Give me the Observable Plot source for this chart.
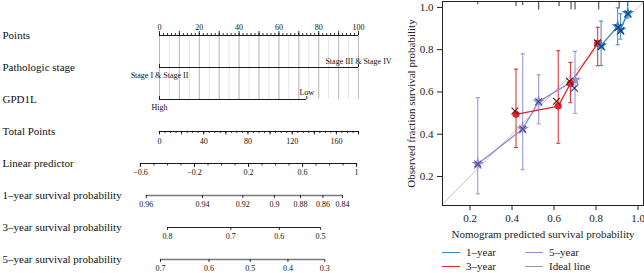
<!DOCTYPE html>
<html><head><meta charset="utf-8">
<script src="https://cdn.jsdelivr.net/npm/d3@7"></script>
<script src="https://cdn.jsdelivr.net/npm/@observablehq/plot@0.6"></script>
<style>
body{margin:0;background:#fff;}
#root{position:relative;width:644px;height:273px;overflow:hidden;font-family:"Liberation Serif","Times New Roman",serif;}
#left{position:absolute;left:0;top:0;}
#right{position:absolute;left:400px;top:0;}
.lg{position:absolute;font-size:11px;line-height:12px;color:#222;white-space:nowrap;}
.lg i{position:absolute;left:0;top:6px;width:18px;height:0;border-top:1.2px solid;}
.lg span{position:absolute;left:24px;top:0;}
</style></head><body>
<div id="root"><div id="left"></div><div id="right"></div><div id="legend"></div></div>
<script>
// ---------------- nomogram data ----------------
const rowNames = ["Points","Pathologic stage","GPD1L","Total Points","Linear predictor",
  "1–year survival probability","3–year survival probability","5–year survival probability"];
const pointsTickLabels = [0,20,40,60,80,100];
const pointsMax = 100;
const stageLevels = ["Stage I & Stage II","Stage III & Stage IV"];
const stagePoints = [0,100];
const gpd1lLevels = ["High","Low"];
const gpd1lPoints = [0,74];
const totalTickLabels = [0,40,80,120,160];
const totalMax = 180;
const lpTickLabels = [-0.6,-0.2,0.2,0.6,1];
const lpRange = [-0.6,1];
const surv1Ticks = [0.96,0.94,0.92,0.9,0.88,0.86,0.84];
const surv3Ticks = [0.8,0.7,0.6,0.5];
const surv5Ticks = [0.7,0.6,0.5,0.4,0.3];
// model constants
const lpAtZeroTotal = -0.459;     // linear predictor at 0 total points
const totalPerLp = 122.2;         // total points per unit linear predictor
const logBaseHazard = {1:-2.642, 3:-1.10, 5:-0.579};

// ---------------- calibration data ----------------
const yr1X  = [0.824,0.903,0.916,0.951];
const yr1Y  = [0.819,0.910,0.894,0.973];
const yr1Lo = [0.725,0.823,0.850,0.950];
const yr1Hi = [0.935,0.998,0.970,1.030];
const yr3X  = [0.419,0.620,0.678,0.808];
const yr3Y  = [0.494,0.533,0.640,0.830];
const yr3Lo = [0.337,0.357,0.549,0.724];
const yr3Hi = [0.708,0.795,0.740,0.906];
const yr5X  = [0.237,0.451,0.527,0.700];
const yr5Y  = [0.259,0.425,0.554,0.657];
const yr5Lo = [0.118,0.232,0.449,0.499];
const yr5Hi = [0.573,0.780,0.681,0.792];
// bias-corrected estimates (x markers)
const crossX = [0.414,0.612,0.674,0.807,0.826,0.905,0.918,0.952,0.237,0.451,0.527,0.697];
const crossY = [0.510,0.556,0.650,0.832,0.815,0.905,0.890,0.970,0.259,0.425,0.554,0.618];
const crossS = ["3","3","3","3","1","1","1","1","5","5","5","1"];
const rugX   = [0.237,0.419,0.451,0.527,0.624,0.681,0.700,0.813,0.910,0.951];
const rugLen = [0.015,0.024,0.020,0.040,0.024,0.040,0.040,0.040,0.036,0.024];
const idealRange = [0,1.2];
const seriesNames = ["1–year","3–year","5–year","Ideal line"];
const seriesColors = ["#3a88c0","#e0252b","#8e8ed0","#9a9a9a"];
const crossColors = {"1":"#1f3a80","3":"#6a1414","5":"#4d4d93"};

// ---------------- left: nomogram ----------------
const totalToPts = t => t * pointsMax / totalMax;
const lpToPts = lp => totalToPts((lp - lpAtZeroTotal) * totalPerLp);
const survToPts = (s, yr) => lpToPts(Math.log(-Math.log(s)) - logBaseHazard[yr]);
const R = rowNames;
const ticks = (data, xf, row, len, up, sw=0.8, stroke="#000") =>
  Plot.ruleX(data, {x: xf, y1: () => row, y2: () => row,
    ...(up ? {insetTop: -len} : {insetBottom: -len}), stroke, strokeWidth: sw});
const axisLine = (row, a, b, stroke="#000", sw=0.9) =>
  Plot.ruleY([row], {y: d => d, x1: a, x2: b, stroke, strokeWidth: sw});
const labels = (data, xf, row, dy, textf) =>
  Plot.text(data, {x: xf, y: () => row, dy, text: textf, fontSize: 8, fill: "#111"});
const num = d => String(d).replace("-", "−");

const survRow = (vals, yr, row, stroke, sw) => [
  Plot.ruleY([row], {y: d => d, x1: survToPts(vals[0], yr), x2: survToPts(vals[vals.length-1], yr), stroke, strokeWidth: sw}),
  ticks(vals, d => survToPts(d, yr), row, 3, false),
  labels(vals, d => survToPts(d, yr), row, 9, d => String(d))
];

const left = Plot.plot({
  width: 400, height: 273, marginLeft: 159, marginRight: 42,
  style: {fontFamily: "Liberation Serif, Times New Roman, serif", background: "transparent"},
  x: {domain: [0, pointsMax], axis: null},
  y: {type: "point", domain: rowNames, range: [32.5, 261.7], padding: 0, axis: null},
  marks: [
    Plot.ruleX(d3.range(0, pointsMax + 0.1, 5), {x: d => d, y1: () => R[0], y2: () => R[2], stroke: "#dedede", strokeWidth: 0.8}),
    Plot.ruleX(d3.range(0, pointsMax + 0.1, 10), {x: d => d, y1: () => R[0], y2: () => R[2], stroke: "#b0b0b0", strokeWidth: 0.8}),
    Plot.text(rowNames, {y: d => d, frameAnchor: "left", dx: -157, textAnchor: "start", fontSize: 11, fill: "#111"}),
    // Points
    axisLine(R[0], 0, pointsMax),
    ticks(d3.range(0, pointsMax + 0.1, 2), d => d, R[0], 2, true),
    ticks(d3.range(0, pointsMax + 0.1, 10), d => d, R[0], 4, true),
    labels(pointsTickLabels, d => d, R[0], -8, d => String(d)),
    // Pathologic stage
    axisLine(R[1], stagePoints[0], stagePoints[1]),
    ticks(stagePoints, d => d, R[1], 3, true),
    Plot.text([0], {x: () => stagePoints[0], y: () => R[1], dy: 8, text: () => stageLevels[0], fontSize: 8, fill: "#111"}),
    Plot.text([1], {x: () => stagePoints[1], y: () => R[1], dy: -6.5, text: () => stageLevels[1], fontSize: 8, fill: "#111"}),
    // GPD1L
    axisLine(R[2], gpd1lPoints[0], gpd1lPoints[1]),
    ticks(gpd1lPoints, d => d, R[2], 3, true),
    Plot.text([0], {x: () => gpd1lPoints[0], y: () => R[2], dy: 7.5, text: () => gpd1lLevels[0], fontSize: 8, fill: "#111"}),
    Plot.text([1], {x: () => gpd1lPoints[1], y: () => R[2], dy: -7, text: () => gpd1lLevels[1], fontSize: 8, fill: "#111"}),
    // Total points
    axisLine(R[3], 0, totalToPts(totalMax)),
    ticks(d3.range(0, totalMax + 0.1, 5), totalToPts, R[3], 2, false),
    ticks(d3.range(0, totalMax + 0.1, 20), totalToPts, R[3], 3.5, false),
    labels(totalTickLabels, totalToPts, R[3], 9.5, d => String(d)),
    // Linear predictor
    axisLine(R[4], lpToPts(lpRange[0]), lpToPts(lpRange[1])),
    ticks(d3.range(-6, 10.1, 1).map(d => d / 10), lpToPts, R[4], 2.5, false),
    ticks(lpTickLabels, lpToPts, R[4], 4, false),
    labels(lpTickLabels, lpToPts, R[4], 9, num),
    ...survRow(surv1Ticks, 1, R[5], "#7a7a7a", 1.6),
    ...survRow(surv3Ticks, 3, R[6], "#222", 1),
    ...survRow(surv5Ticks, 5, R[7], "#7a7a7a", 1.4)
  ]
});
document.getElementById("left").appendChild(left);

// ---------------- right: calibration ----------------
const mk = (X, Y, Lo, Hi, s) => X.map((x, i) => ({x, y: Y[i], lo: Lo[i], hi: Hi[i], s}));
const d1 = mk(yr1X, yr1Y, yr1Lo, yr1Hi, seriesNames[0]);
const d3y = mk(yr3X, yr3Y, yr3Lo, yr3Hi, seriesNames[1]);
const d5 = mk(yr5X, yr5Y, yr5Lo, yr5Hi, seriesNames[2]);
const allPts = [...d1, ...d3y, ...d5];
const crosses = crossX.map((x, i) => ({x, y: crossY[i], s: crossS[i]}));
const cap = {draw(ctx, size) { const w = Math.sqrt(size) / 2; ctx.moveTo(-w, 0); ctx.lineTo(w, 0); }};
const colorOf = s => seriesColors[seriesNames.indexOf(s)];
const yTop = 1.028;

const right = Plot.plot({
  width: 244, height: 240, marginLeft: 42, marginRight: 1, marginTop: 1, marginBottom: 35,
  style: {fontFamily: "Liberation Serif, Times New Roman, serif", fontSize: "11px", background: "transparent", color: "#222"},
  x: {domain: [0.069, 1.026], ticks: [0.2,0.4,0.6,0.8,1.0], tickFormat: ".1f", tickSize: 5,
      label: "Nomogram predicted survival probability", labelAnchor: "center", labelArrow: "none"},
  y: {domain: [0.0627, yTop], ticks: [0.2,0.4,0.6,0.8,1.0], tickFormat: ".1f", tickSize: 5,
      label: "Observed fraction survival probability", labelAnchor: "center", labelArrow: "none", labelOffset: 35},
  marks: [
    Plot.line(idealRange, {x: d => d, y: d => d, stroke: "#c4c4c4", strokeWidth: 1, clip: true}),
    Plot.ruleX(rugX.map((x, i) => ({x, l: rugLen[i]})), {x: "x", y1: () => yTop, y2: d => yTop - d.l, stroke: "#333", strokeWidth: 1}),
    Plot.ruleX(allPts, {x: "x", y1: "lo", y2: "hi", stroke: d => colorOf(d.s), strokeWidth: 1, clip: true}),
    Plot.dot(allPts.filter(d => d.lo > 0.07), {x: "x", y: "lo", symbol: cap, r: 2.3, stroke: d => colorOf(d.s), strokeWidth: 1}),
    Plot.dot(allPts.filter(d => d.hi < yTop), {x: "x", y: "hi", symbol: cap, r: 2.3, stroke: d => colorOf(d.s), strokeWidth: 1}),
    Plot.line(d5, {x: "x", y: "y", stroke: colorOf(seriesNames[2]), strokeWidth: 1.3}),
    Plot.line(d3y, {x: "x", y: "y", stroke: colorOf(seriesNames[1]), strokeWidth: 1.3}),
    Plot.line(d1, {x: "x", y: "y", stroke: colorOf(seriesNames[0]), strokeWidth: 1.3}),
    Plot.dot(d5, {x: "x", y: "y", symbol: "star", r: 4, fill: colorOf(seriesNames[2])}),
    Plot.dot(d3y, {x: "x", y: "y", symbol: "circle", r: 3.6, fill: colorOf(seriesNames[1])}),
    Plot.dot(d1, {x: "x", y: "y", symbol: "star", r: 4, fill: colorOf(seriesNames[0])}),
    Plot.dot(crosses, {x: "x", y: "y", symbol: "times", r: 3.2, stroke: d => crossColors[d.s], strokeWidth: 1.1}),
    Plot.frame({stroke: "#222", strokeWidth: 1})
  ]
});
document.getElementById("right").appendChild(right);

// ---------------- legend ----------------
const lg = document.getElementById("legend");
const legPos = [[442,246],[442,260],[525,246],[525,260]];
const legOrder = [0,1,2,3];
legOrder.forEach((k, j) => {
  const el = document.createElement("div");
  el.className = "lg";
  el.style.left = legPos[j][0] + "px";
  el.style.top = legPos[j][1] + "px";
  el.innerHTML = `<i style="border-color:${seriesColors[k]}"></i><span>${seriesNames[k]}</span>`;
  lg.appendChild(el);
});
</script>
</body></html>
